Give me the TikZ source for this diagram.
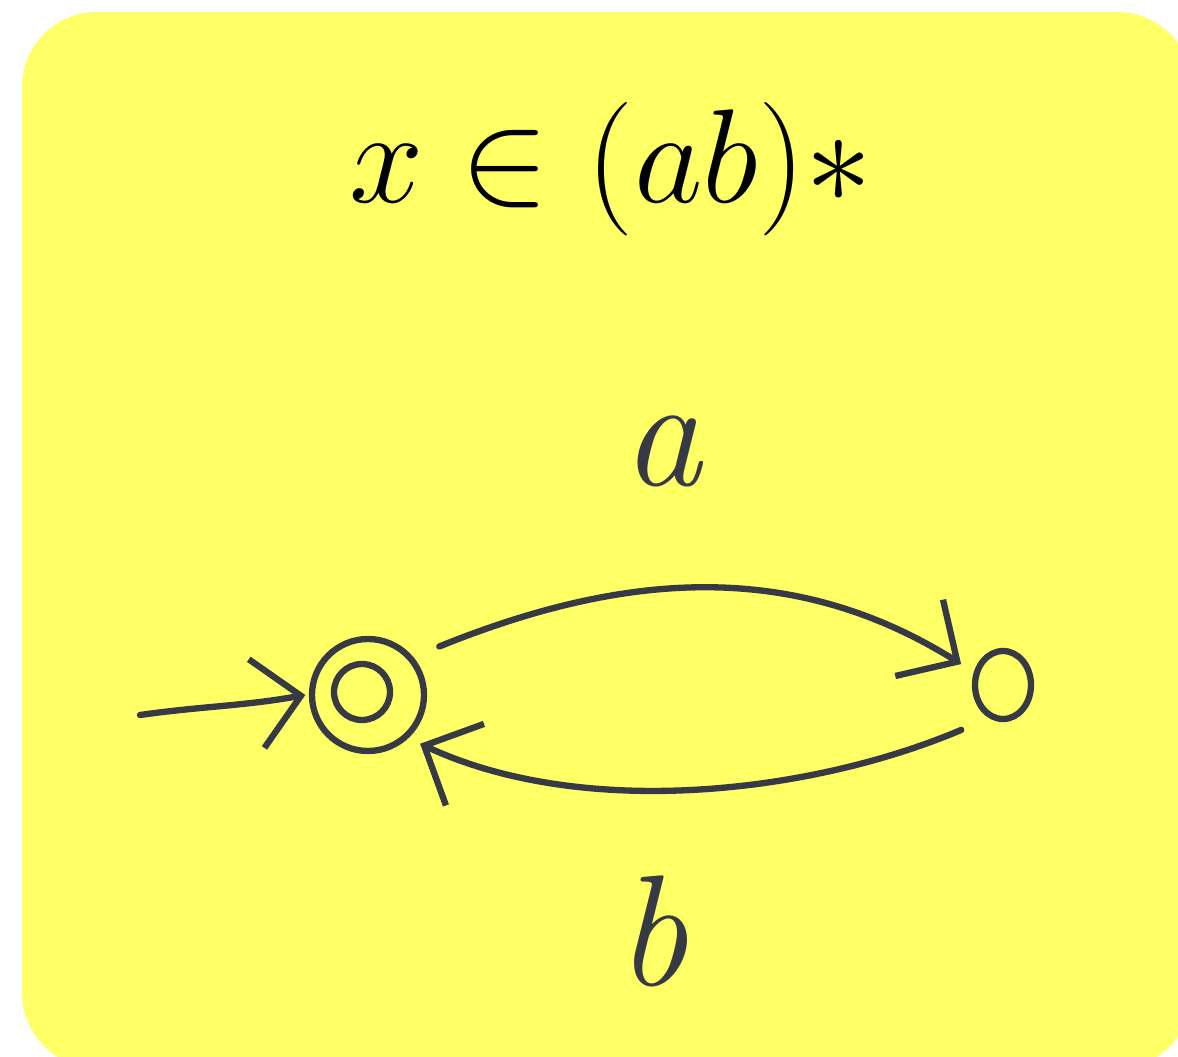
\documentclass[tikz,border=0pt]{standalone}
\usepackage{fix-cm}
\usepackage{xcolor}
\definecolor{note}{HTML}{FFFF66}
\definecolor{ink}{HTML}{373A44}
\usepackage{amsmath, amssymb}
\usepackage{tikz}
\usetikzlibrary{positioning, arrows.meta, shapes.geometric}
\tikzset{
    state/.style = {circle, draw=ink, line width=1.8pt, inner sep=0pt},
    edge/.style = {-{Straight Barb[length=4.5mm, width=9mm]}, line width=1.8pt,
                   color=ink, line cap=round, line join=round},
    hand/.style = {font=\fontsize{45}{50}\selectfont\itshape, text=ink, anchor=base},
}
\begin{document}
\begin{tikzpicture}
        \useasboundingbox (0,0) rectangle (11.78,-10.57);
        \fill[note, rounded corners=0.75cm] (0.22,-0.12) rectangle (11.92,-10.68);
        \node[anchor=base] (title) at (6.11,-2.03) {\fontsize{38}{42}\selectfont $x \in (ab)*$};
        \node[state, minimum size=1.12cm] (q0) at (3.68,-6.95) {};
        \node[state, minimum size=0.56cm] (q0in) at (3.62,-6.92) {};
        \node[state, ellipse, minimum width=0.56cm, minimum height=0.68cm] (q1) at (10.03,-6.85) {};
        \coordinate (start) at (1.40,-7.15);
        \draw[edge] (start) to[out=8, in=190] ([xshift=-1pt]q0.west);
        \draw[edge, shorten <=0.28cm, shorten >=0.15cm] (q0.40) to[out=22, in=148] (q1.156);
        \draw[edge, shorten <=0.3cm, shorten >=0.13cm] (q1.-113) to[out=203, in=-25, looseness=0.85] (q0.-47);
        \node[hand] (la) at (6.62,-4.85) {a};
        \node[hand] (lb) at (6.52,-9.85) {b};
      \end{tikzpicture}
\end{document}
